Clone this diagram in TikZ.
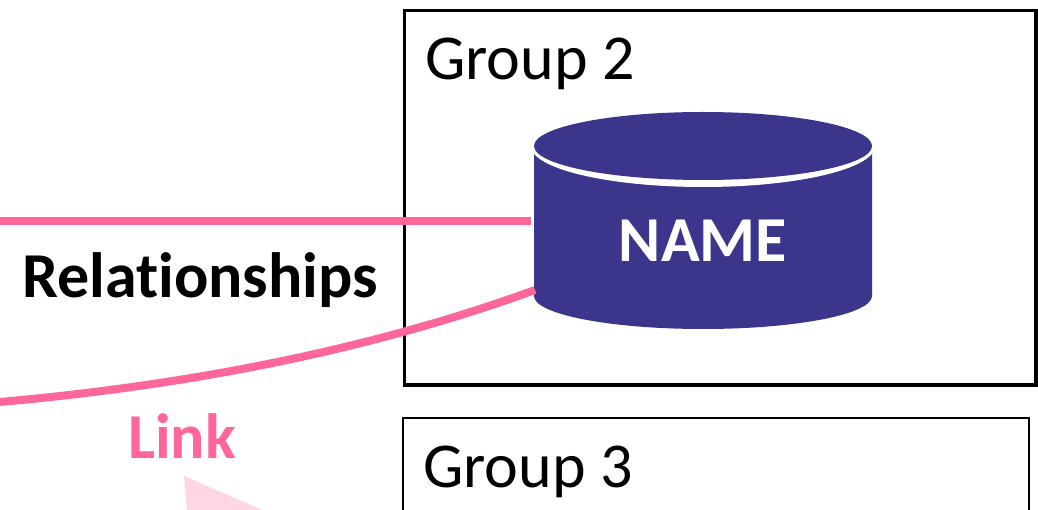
\documentclass[tikz,border=0pt]{standalone}
\usepackage{fontspec}
\setmainfont{Carlito}[Ligatures=NoCommon]
\definecolor{linkpink}{RGB}{255,102,153}
\definecolor{palepink}{RGB}{255,214,229}
\definecolor{dbblue}{RGB}{59,53,140}
\begin{document}
\begin{tikzpicture}[
       x=1pt,
       y=-1pt,
       group/.style={
         draw=black,
         line width=3.4pt
       },
       grouplabel/.style={
         anchor=base west,
         inner sep=0pt,
         font=\fontsize{64}{68}\selectfont
       },
       relation/.style={
         draw=linkpink,
         line width=8pt
       }
     ]
       \useasboundingbox (0,0) rectangle (1038,510);
       \clip (0,0) rectangle (1038,510);

       % boxes
       \draw[group] (404.5,10.5) rectangle (1036,385);
       \draw[group,line width=2pt] (403,418) rectangle (1029,530);
       \node[grouplabel] (g2) at (425,80) {Group 2};
       \node[grouplabel] (g3) at (423,487) {Group 3};

       % database
       \fill[dbblue] (534,150) -- (534,296) arc[start angle=180,end angle=0,x radius=169,y radius=33]
         -- (872,150) -- cycle;
       \fill[white] (703,146) ellipse[x radius=172,y radius=41];
       \fill[dbblue] (703,146) ellipse[x radius=169,y radius=34];
       \node[text=white,font=\fontsize{64}{68}\bfseries\selectfont,inner sep=0pt] (name) at (703,241) {NAME};

       % connectors
       \coordinate (r1) at (0,221);
       \coordinate (r2) at (531,221);
       \coordinate (l1) at (0,402);
       \coordinate (l2) at (535,290);
       \draw[relation] (r1) -- (r2);
       \draw[relation] (l1) .. controls (190,385) and (370,350) .. (l2);

       \node[font=\fontsize{64}{68}\bfseries\selectfont,inner sep=0pt] (rel) at (200,280) {Relationships};
       \node[text=linkpink,font=\fontsize{64}{68}\bfseries\selectfont,inner sep=0pt] (link) at (182,436) {Link};

       \fill[palepink] (184,476) -- (290,522) -- (188,522) -- cycle;
\end{tikzpicture}
\end{document}
